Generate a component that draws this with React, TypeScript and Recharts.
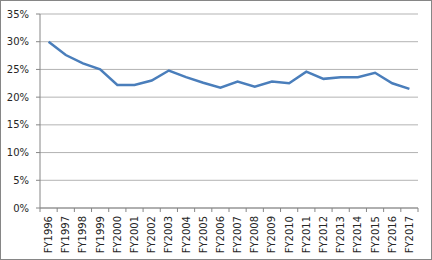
import { CartesianGrid, Line, LineChart, XAxis, YAxis } from "recharts";

const years = [
  "FY1996", "FY1997", "FY1998", "FY1999", "FY2000", "FY2001", "FY2002", "FY2003",
  "FY2004", "FY2005", "FY2006", "FY2007", "FY2008", "FY2009", "FY2010", "FY2011",
  "FY2012", "FY2013", "FY2014", "FY2015", "FY2016", "FY2017",
];

const rates = [
  0.3, 0.276, 0.261, 0.25, 0.222, 0.222, 0.23, 0.248, 0.236, 0.226, 0.217,
  0.228, 0.219, 0.228, 0.225, 0.246, 0.233, 0.236, 0.236, 0.244, 0.225, 0.215,
];

const yTicks = [0, 0.05, 0.1, 0.15, 0.2, 0.25, 0.3, 0.35];

const data = years.map((year, i) => ({ year, rate: rates[i] }));

const W = 432;
const H = 260;
const LEFT = 40;
const RIGHT = 14;
const BAND = (W - LEFT - RIGHT) / years.length;
const AXIS = "#868686";
const FONT = "'DejaVu Sans', Verdana, sans-serif";

function YearTick(props: any) {
  const { x, y, payload, index } = props;
  const ty = y + 8;
  return (
    <g>
      <line x1={x - BAND / 2} y1={y} x2={x - BAND / 2} y2={y + 4} stroke={AXIS} />
      {index === years.length - 1 && (
        <line x1={x + BAND / 2} y1={y} x2={x + BAND / 2} y2={y + 4} stroke={AXIS} />
      )}
      <text
        x={x}
        y={ty}
        dy="0.35em"
        transform={`rotate(-90 ${x} ${ty})`}
        textAnchor="end"
        fontSize={10}
        fontFamily={FONT}
        fill="#262626"
      >
        {payload.value}
      </text>
    </g>
  );
}

export default function App() {
  return (
    <div
      style={{
        width: W,
        height: H,
        boxSizing: "border-box",
        border: `1px solid ${AXIS}`,
        background: "#fff",
        position: "relative",
      }}
    >
      <style>{"body{margin:0}"}</style>
      <div style={{ position: "absolute", left: -1, top: -1 }}>
        <LineChart
          width={W}
          height={H}
          data={data}
          margin={{ top: 14, right: RIGHT, left: 0, bottom: 0 }}
        >
          <CartesianGrid stroke="#b3b3b3" vertical={false} />
          <XAxis
            dataKey="year"
            interval={0}
            height={52}
            padding={{ left: BAND / 2, right: BAND / 2 }}
            tickLine={false}
            tickSize={0}
            tickMargin={0}
            axisLine={{ stroke: AXIS }}
            tick={<YearTick />}
          />
          <YAxis
            width={LEFT}
            domain={[0, 0.35]}
            ticks={yTicks}
            interval={0}
            tickSize={4}
            tickMargin={7}
            tickLine={{ stroke: AXIS }}
            axisLine={{ stroke: AXIS }}
            tickFormatter={(v: number) => `${Math.round(v * 100)}%`}
            tick={{ fontSize: 10, fontFamily: FONT, fill: "#262626" }}
          />
          <Line
            type="linear"
            dataKey="rate"
            stroke="#4a7ebb"
            strokeWidth={2.5}
            dot={false}
            isAnimationActive={false}
          />
        </LineChart>
      </div>
    </div>
  );
}
